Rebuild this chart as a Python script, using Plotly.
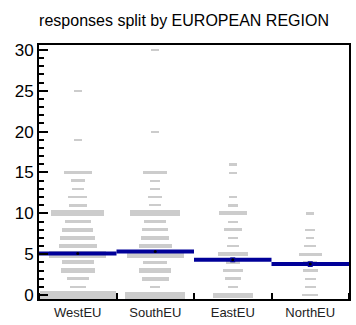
import plotly.graph_objects as go

categories = ["WestEU", "SouthEU", "EastEU", "NorthEU"]

west_vals = [0, 1, 2, 3, 4, 5, 6, 7, 8, 9, 10, 11, 12, 13, 14, 15, 19, 25]
west_freq = [77, 16, 22, 34, 32, 57, 38, 35, 31, 26, 53, 18, 19, 12, 14, 28, 8, 8]
south_vals = [0, 1, 2, 3, 4, 5, 6, 7, 8, 9, 10, 11, 12, 13, 14, 15, 20, 30]
south_freq = [60, 10, 27, 32, 24, 57, 33, 28, 26, 22, 50, 12, 14, 10, 10, 24, 8, 8]
east_vals = [0, 1, 2, 3, 4, 5, 6, 7, 8, 9, 10, 11, 12, 15, 16]
east_freq = [40, 10, 16, 20, 14, 30, 12, 10, 18, 10, 28, 10, 8, 8, 8]
north_vals = [0, 1, 2, 3, 4, 5, 6, 7, 8, 10]
north_freq = [16, 11, 11, 15, 14, 23, 12, 8, 10, 8]

means = [5.08, 5.32, 4.31, 3.79]
sems = [0.1, 0.1, 0.3, 0.35]

title_text = "responses split by EUROPEAN REGION"

FONT = "Liberation Sans, Arial, sans-serif"
GRAY = "#cccccc"
BLUE = "#000099"
PX_PER_UNIT = 257 / 31.08
CAT_PX = 78.0

vals_all = [west_vals, south_vals, east_vals, north_vals]
freq_all = [west_freq, south_freq, east_freq, north_freq]

bx, by, bbase, bw = [], [], [], []
for ci, (vs, fs) in enumerate(zip(vals_all, freq_all)):
    for v, f in zip(vs, fs):
        thick = (1.0 + 0.1 * f) / PX_PER_UNIT
        bx.append(ci)
        by.append(thick)
        bbase.append(v - thick / 2)
        bw.append(f / CAT_PX)

fig = go.Figure()
fig.add_trace(go.Bar(x=bx, y=by, base=bbase, width=bw, marker=dict(color=GRAY, line=dict(width=0)),
                     showlegend=False, hoverinfo="skip"))

mx, my = [], []
for ci, m in enumerate(means):
    mx += [ci - 0.5, ci + 0.5, None]
    my += [m, m, None]
fig.add_trace(go.Scatter(x=mx, y=my, mode="lines", line=dict(color=BLUE, width=4),
                         showlegend=False, hoverinfo="skip"))
fig.add_trace(go.Scatter(x=list(range(len(categories))), y=means, mode="markers",
                         marker=dict(color="black", size=3),
                         error_y=dict(type="data", array=sems, color=BLUE, thickness=5, width=0),
                         showlegend=False, hoverinfo="skip"))

fig.update_layout(
    width=356, height=325,
    margin=dict(l=39, r=5, t=45, b=23),
    paper_bgcolor="white", plot_bgcolor="white",
    barmode="overlay", bargap=0,
    font=dict(family=FONT, color="black"),
    title=dict(text=title_text, x=0.517, xanchor="center", y=0.938, yanchor="middle",
               font=dict(size=16, family=FONT, color="black")),
)
fig.update_xaxes(
    range=[-0.5, 3.5], tickmode="array", tickvals=list(range(len(categories))), ticktext=categories,
    ticks="", showgrid=False, zeroline=False,
    showline=True, linecolor="black", linewidth=2, mirror=True,
    tickfont=dict(size=13, family=FONT, color="#222"),
    minor=dict(ticks="inside", tick0=0.5, dtick=1, ticklen=6, tickwidth=2, tickcolor="black", showgrid=False),
)
fig.update_yaxes(
    range=[-0.48, 30.6], tickmode="linear", tick0=0, dtick=5,
    ticks="inside", ticklen=9, tickwidth=2, tickcolor="black",
    showgrid=False, zeroline=False,
    showline=True, linecolor="black", linewidth=2, mirror=True,
    tickfont=dict(size=17, family=FONT, color="black"),
    minor=dict(ticks="inside", dtick=1, ticklen=5, tickwidth=2, tickcolor="black", showgrid=False),
)

fig.write_html("out.html", config={"displayModeBar": False},
               post_script="document.body.style.margin='0';document.body.style.padding='0';")
